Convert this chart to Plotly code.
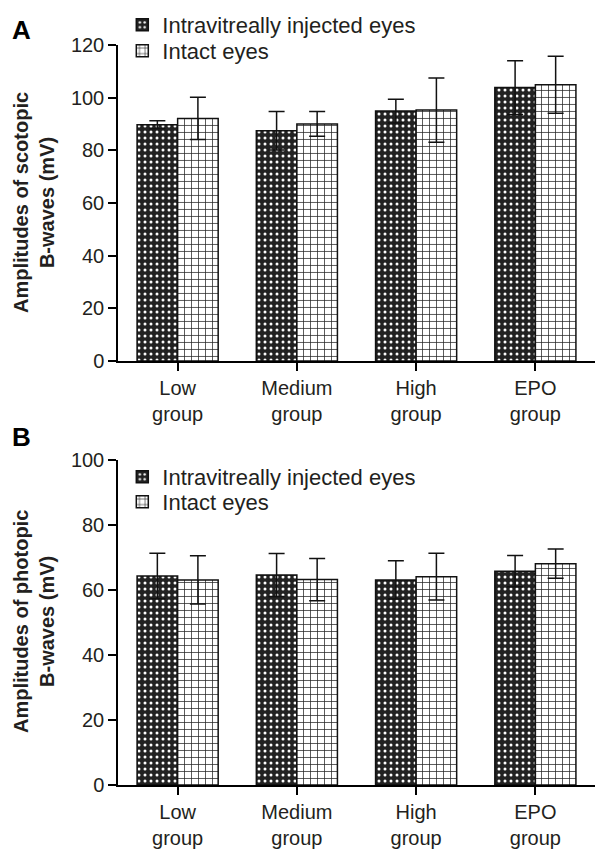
import plotly.graph_objects as go

categories = ["Low<br>group", "Medium<br>group", "High<br>group", "EPO<br>group"]
series_names = ["Intravitreally injected eyes", "Intact eyes"]

scotopic_injected = [89.7, 87.4, 94.9, 103.8]
scotopic_injected_err = [1.5, 7.3, 4.5, 10.2]
scotopic_intact = [92.1, 90.0, 95.3, 104.9]
scotopic_intact_err = [8.0, 4.7, 12.2, 10.8]

photopic_injected = [64.3, 64.6, 63.1, 65.8]
photopic_injected_err = [7.0, 6.6, 5.9, 4.8]
photopic_intact = [63.1, 63.2, 64.1, 68.1]
photopic_intact_err = [7.4, 6.5, 7.2, 4.5]

FONT = "Liberation Sans, Arial, sans-serif"
DARK = "#222222"
TXT = "#231f20"

def bar(name, y, err, xa, ya, dark, legend):
    if dark:
        pattern = dict(shape=".", bgcolor=DARK, fgcolor="white", size=6, solidity=0.2, fillmode="replace")
    else:
        pattern = dict(shape="+", bgcolor="white", fgcolor=DARK, size=7, solidity=0.2, fillmode="replace")
    return go.Bar(
        name=name, x=categories, y=y, xaxis=xa, yaxis=ya,
        legend=legend, showlegend=True,
        marker=dict(color=DARK if dark else "white", pattern=pattern,
                    line=dict(color="#111111", width=1.5)),
        error_y=dict(type="data", array=err, visible=True, color="#111111",
                     thickness=1.5, width=8),
    )

fig = go.Figure()
fig.add_trace(bar(series_names[0], scotopic_injected, scotopic_injected_err, "x", "y", True, "legend"))
fig.add_trace(bar(series_names[1], scotopic_intact, scotopic_intact_err, "x", "y", False, "legend2"))
fig.add_trace(bar(series_names[0], photopic_injected, photopic_injected_err, "x2", "y2", True, "legend3"))
fig.add_trace(bar(series_names[1], photopic_intact, photopic_intact_err, "x2", "y2", False, "legend4"))

axis_common = dict(showline=True, linecolor="black", linewidth=1.5, ticks="outside",
                   tickcolor="black", tickwidth=1.5, ticklen=8, showgrid=False, zeroline=False,
                   automargin=False,
                   tickfont=dict(family=FONT, size=20, color=TXT))

legend_common = dict(x=0.009, xanchor="left", yanchor="middle", bgcolor="rgba(0,0,0,0)",
                     font=dict(family=FONT, size=22, color=TXT), itemwidth=30,
                     tracegroupgap=0)

fig.update_layout(
    width=595, height=842,
    margin=dict(l=110, r=8, t=0, b=0, autoexpand=False),
    paper_bgcolor="white", plot_bgcolor="white",
    barmode="group", bargap=0.32, bargroupgap=0,
    font=dict(family=FONT, size=20, color=TXT),
    xaxis=dict(domain=[0, 1], anchor="y", range=[-0.5, 3.5], **axis_common),
    yaxis=dict(domain=[0.5808, 0.9561], anchor="x", range=[0, 120], dtick=20, **axis_common),
    xaxis2=dict(domain=[0, 1], anchor="y2", range=[-0.5, 3.5], **axis_common),
    yaxis2=dict(domain=[0.0772, 0.4632], anchor="x2", range=[0, 100], dtick=20, **axis_common),
    legend=dict(y=0.9798, **legend_common),
    legend2=dict(y=0.9489, **legend_common),
    legend3=dict(y=0.4430, **legend_common),
    legend4=dict(y=0.4133, **legend_common),
    annotations=[
        dict(text="<b>A</b>", x=-0.2264, y=0.9739, xref="paper", yref="paper", showarrow=False,
             xanchor="left", yanchor="middle", font=dict(family=FONT, size=26, color="black")),
        dict(text="<b>B</b>", x=-0.2264, y=0.4905, xref="paper", yref="paper", showarrow=False,
             xanchor="left", yanchor="middle", font=dict(family=FONT, size=26, color="black")),
        dict(text="<b>Amplitudes of scotopic<br>B-waves (mV)</b>", x=-0.176, y=0.7684, xref="paper", yref="paper",
             showarrow=False, textangle=-90, xanchor="center", yanchor="middle",
             font=dict(family=FONT, size=20, color=TXT)),
        dict(text="<b>Amplitudes of photopic<br>B-waves (mV)</b>", x=-0.176, y=0.2708, xref="paper", yref="paper",
             showarrow=False, textangle=-90, xanchor="center", yanchor="middle",
             font=dict(family=FONT, size=20, color=TXT)),
    ],
)

fig.write_html("out.html")
